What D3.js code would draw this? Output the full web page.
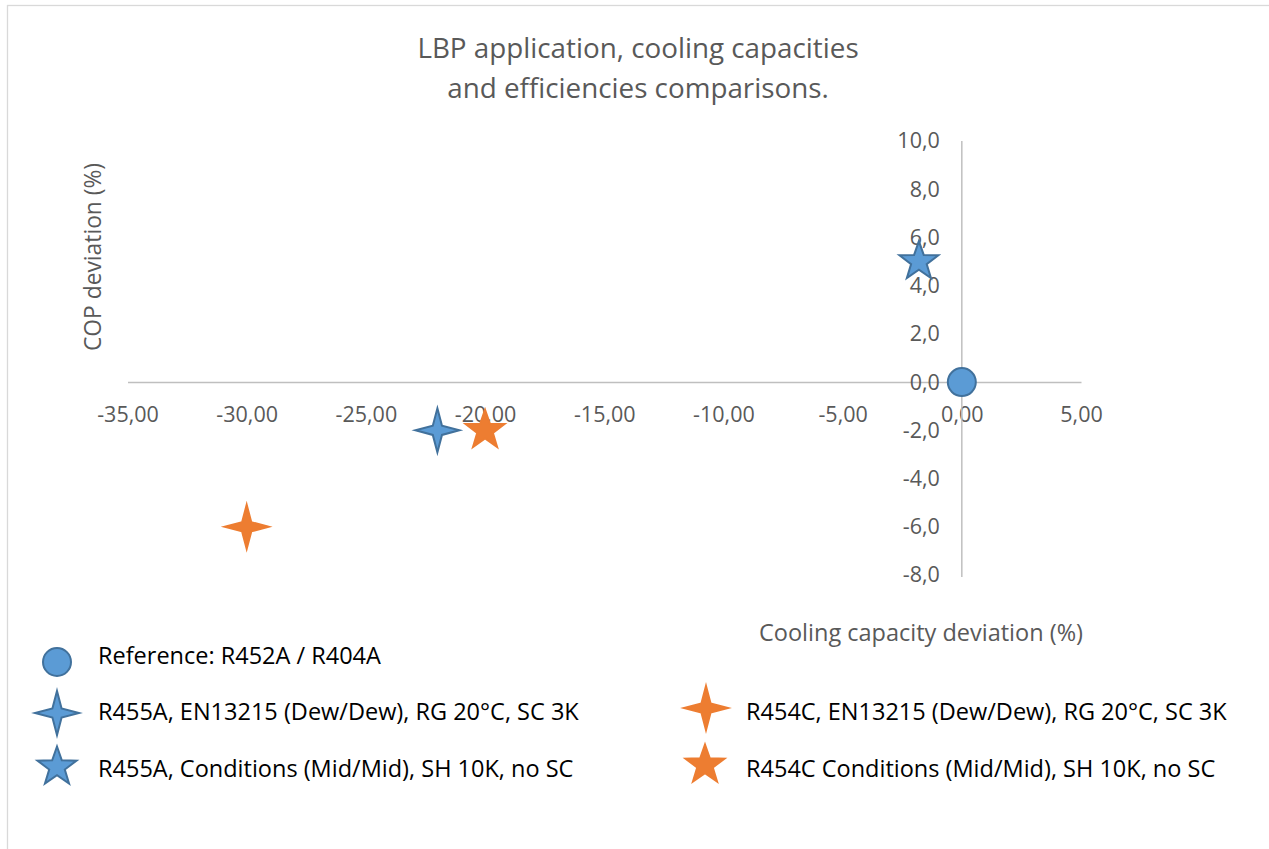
<!DOCTYPE html>
<html>
<head>
<meta charset="utf-8">
<script src="https://cdn.jsdelivr.net/npm/d3@7"></script>
<style>
  html, body { margin: 0; padding: 0; background: #fff; }
  svg { display: block; }
  text { font-family: "Open Sans", "Noto Sans", sans-serif; }
</style>
</head>
<body>
<svg id="chart" width="1269" height="849"></svg>
<script>
// ---- data ----
const titleLines = ["LBP application, cooling capacities", "and efficiencies comparisons."];
const xAxisTitle = "Cooling capacity deviation (%)";
const yAxisTitle = "COP deviation (%)";
const xTicks = [-35, -30, -25, -20, -15, -10, -5, 0, 5];
const yTicks = [-8, -6, -4, -2, 0, 2, 4, 6, 8, 10];
const seriesNames = [
  "Reference: R452A / R404A",
  "R455A, EN13215 (Dew/Dew), RG 20°C, SC 3K",
  "R455A, Conditions (Mid/Mid), SH 10K, no SC",
  "R454C, EN13215 (Dew/Dew), RG 20°C, SC 3K",
  "R454C Conditions (Mid/Mid), SH 10K, no SC"
];
const seriesX = [0.0, -22.0, -1.8, -30.0, -20.0];
const seriesY = [0.0, -2.0, 5.0, -6.0, -2.0];
const seriesShape = ["circle", "star4", "star5", "star4", "star5"];
const seriesFill = ["#5b9bd5", "#5b9bd5", "#5b9bd5", "#ed7d31", "#ed7d31"];
const seriesStroke = ["#41719c", "#41719c", "#41719c", "#ed7d31", "#ed7d31"];

// ---- layout ----
const svg = d3.select("#chart");
const x = d3.scaleLinear().domain([-35, 5]).range([127.5, 1081]);
const y = d3.scaleLinear().domain([-8, 10]).range([575, 141]);

const fmtX = d => d3.format(".2f")(d).replace(".", ",").replace("\u2212", "-");
const fmtY = d => d3.format(".1f")(d).replace(".", ",").replace("\u2212", "-");

// chart border
svg.append("rect").attr("x", 7.5).attr("y", 5.5).attr("width", 1275).attr("height", 860)
  .attr("fill", "#fff").attr("stroke", "#d9d9d9").attr("stroke-width", 1.3);

// title
svg.append("text").attr("x", 638).attr("y", 58).attr("text-anchor", "middle")
  .attr("font-size", 27.8).attr("fill", "#595959")
  .selectAll("tspan").data(titleLines).join("tspan")
  .attr("x", 638).attr("dy", (d, i) => i === 0 ? 0 : 39.5).text(d => d);

// axes
const xAxis = d3.axisBottom(x).tickValues(xTicks).tickSize(0).tickPadding(0).tickFormat(fmtX);
const gx = svg.append("g").attr("transform", `translate(0,${y(0)})`).call(xAxis);
gx.select(".domain").attr("stroke", "#bfbfbf").attr("stroke-width", 1.5);
gx.selectAll("text").attr("font-size", 21.5).attr("fill", "#595959").attr("dy", null).attr("y", 40)
  .attr("font-family", "'Open Sans', 'Noto Sans', sans-serif");

const yAxis = d3.axisLeft(y).tickValues(yTicks).tickSize(0).tickPadding(22).tickFormat(fmtY);
const gy = svg.append("g").attr("transform", `translate(${x(0)},0)`).call(yAxis);
gy.select(".domain").attr("stroke", "#bfbfbf").attr("stroke-width", 1.5)
  .attr("d", `M0,${y(10)}V${y(-8) + 2}`);
gy.selectAll("text").attr("font-size", 21.5).attr("fill", "#595959")
  .attr("font-family", "'Open Sans', 'Noto Sans', sans-serif");

// axis titles
svg.append("text").attr("x", 1083).attr("y", 641).attr("text-anchor", "end")
  .attr("font-size", 23.5).attr("fill", "#595959").text(xAxisTitle);
svg.append("text").attr("transform", "translate(101,257) rotate(-90)").attr("text-anchor", "middle")
  .attr("font-size", 22.8).attr("fill", "#595959").text(yAxisTitle);

// marker shapes
function shapePath(shape) {
  if (shape === "circle") {
    const p = d3.path(); p.arc(0, 0, 14, 0, 2 * Math.PI); p.closePath(); return p.toString();
  }
  if (shape === "star5") {
    const R = 20.5, r = R * 0.40;
    const pts = d3.range(10).map(i => {
      const a = -Math.PI / 2 + i * Math.PI / 5; const rr = i % 2 ? r : R;
      return [rr * Math.cos(a), rr * Math.sin(a)];
    });
    return d3.line().curve(d3.curveLinearClosed)(pts);
  }
  // star4
  const R = 22, r = 6.5;
  const pts = d3.range(8).map(i => {
    const a = -Math.PI / 2 + i * Math.PI / 4; const rr = i % 2 ? r : R;
    return [rr * Math.cos(a), rr * Math.sin(a)];
  });
  return d3.line().curve(d3.curveLinearClosed)(pts);
}

const data = seriesNames.map((n, i) => ({
  name: n, x: seriesX[i], y: seriesY[i], shape: seriesShape[i], fill: seriesFill[i], stroke: seriesStroke[i]
}));

svg.append("g").selectAll("path").data(data).join("path")
  .attr("transform", d => `translate(${x(d.x)},${y(d.y)})`)
  .attr("d", d => shapePath(d.shape))
  .attr("fill", d => d.fill).attr("stroke", d => d.stroke).attr("stroke-width", 2);

// legend
const legendPos = [
  { mx: 57, my: 662, tx: 98, ty: 664 },
  { mx: 57, my: 713, tx: 98, ty: 720 },
  { mx: 57, my: 767, tx: 98, ty: 777 },
  { mx: 706, my: 708, tx: 746, ty: 720 },
  { mx: 705, my: 765, tx: 746, ty: 777 }
];
const lg = svg.append("g").selectAll("g").data(data).join("g");
lg.append("path")
  .attr("transform", (d, i) => `translate(${legendPos[i].mx},${legendPos[i].my})`)
  .attr("d", d => shapePath(d.shape))
  .attr("fill", d => d.fill).attr("stroke", d => d.stroke).attr("stroke-width", 2);
lg.append("text")
  .attr("x", (d, i) => legendPos[i].tx).attr("y", (d, i) => legendPos[i].ty)
  .attr("font-size", 23.5).attr("fill", "#000").text(d => d.name);
</script>
</body>
</html>
